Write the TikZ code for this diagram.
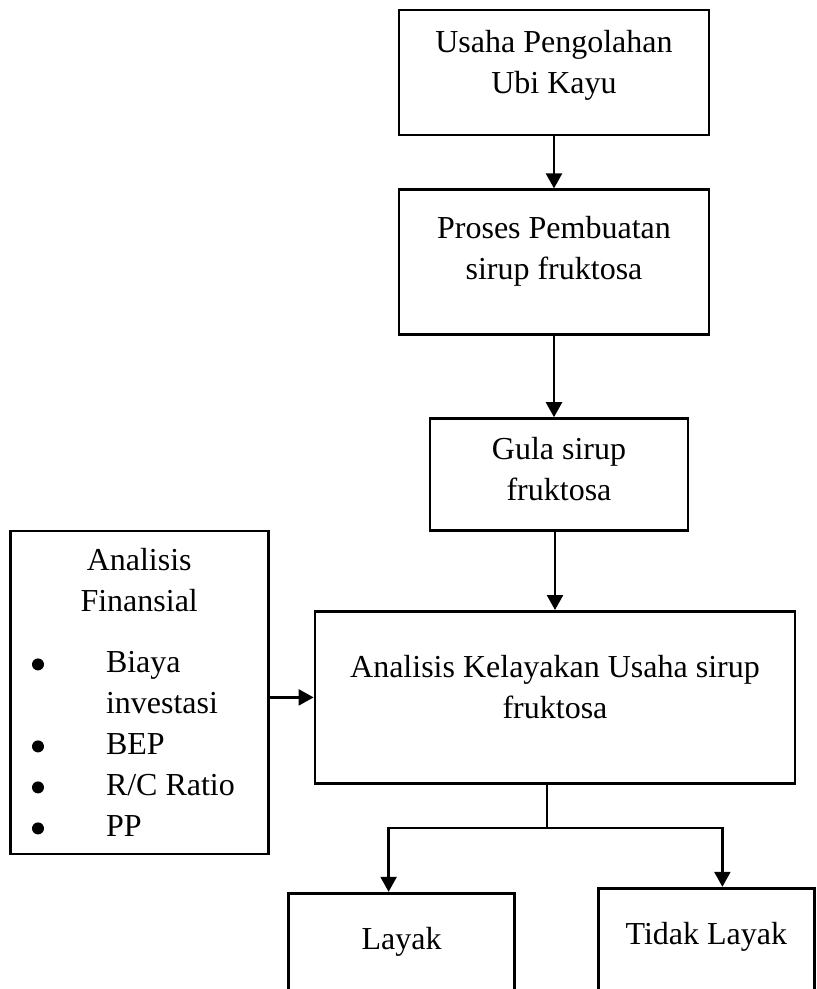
\documentclass[tikz,border=0pt]{standalone}
\usepackage{fontspec}
\setmainfont{Liberation Serif}
\usetikzlibrary{positioning,arrows.meta}
\tikzset{
	>={Triangle[width=16pt,length=15pt]}
}
\newcommand{\butir}{\tikz[baseline=0pt]\fill (6pt,8pt) circle (6pt);}

\begin{document}
\begin{tikzpicture}[
node distance = 50pt,
line width = 2.4pt,
every node/.style = {
	font = \fontsize{32pt}{41pt}\selectfont,
	inner sep = 0pt
},
box/.style = {
	draw,
	line width = 2.8pt,
	minimum width = 310pt,
	minimum height = 125pt
},
openbox/.style = {
	box,
	minimum height = 200pt
},
boxtext/.style = {
	align = center
}
]
\useasboundingbox (0,0) rectangle (817pt,-989pt);
\clip (0,0) rectangle (817pt,-989pt);

\node (usaha) [box] at (554pt,-72.5pt) {};
\node [boxtext, below = 20pt of usaha.north] {Usaha Pengolahan\\Ubi Kayu};

\node (proses) [box, below = 52pt of usaha, minimum height = 145pt] {};
\node [boxtext, below = 27pt of proses.north] {Proses Pembuatan\\sirup fruktosa};

\node (gula) [box, below = 81pt of proses, xshift = 5pt, minimum width = 258pt, minimum height = 112pt] {};
\node [boxtext, below = 19pt of gula.north] {Gula sirup\\fruktosa};

\node (kelayakan) [box, below = 78pt of gula, xshift = -4pt, minimum width = 480pt, minimum height = 172pt] {};
\node [boxtext, below = 44pt of kelayakan.north] {Analisis Kelayakan Usaha sirup\\fruktosa};

\node (finansial) [box, left = 44pt of kelayakan, yshift = 5pt, minimum width = 258pt, minimum height = 323pt] {};
\node [boxtext, below = 18pt of finansial.north] {Analisis\\Finansial};
\node (daftar) [below right = 114pt and 23pt of finansial.north west] {%
\begin{tabular}{@{}p{74pt}@{}l@{}}
\butir & Biaya\\
 & investasi\\
\butir & BEP\\
\butir & R/C Ratio\\
\butir & PP
\end{tabular}};

\node (layak) [openbox, below left = 107pt and 39pt of kelayakan.south, minimum width = 226pt] {};
\node [boxtext, below = 34pt of layak.north] {Layak};
\node (tidak) [openbox, below right = 102pt and 42pt of kelayakan.south, minimum width = 216pt] {};
\node [boxtext, below = 34pt of tidak.north] {Tidak Layak};

% arrows
\draw [->] (usaha) -- (proses);
\draw [->] (proses) -- (proses.south |- gula.north);
\draw [->] (kelayakan.north |- gula.south) -- (kelayakan);
\draw [->] (finansial.east |- kelayakan.west) -- (kelayakan.west);
\coordinate (cabang) at ([xshift=-8pt, yshift=-43pt]kelayakan.south);
\draw (kelayakan.south -| cabang) -- (cabang);
\draw [->] (cabang) -| ([xshift=-13pt]layak.north);
\draw [->] (cabang) -| ([xshift=16pt]tidak.north);

\end{tikzpicture}
\end{document}
